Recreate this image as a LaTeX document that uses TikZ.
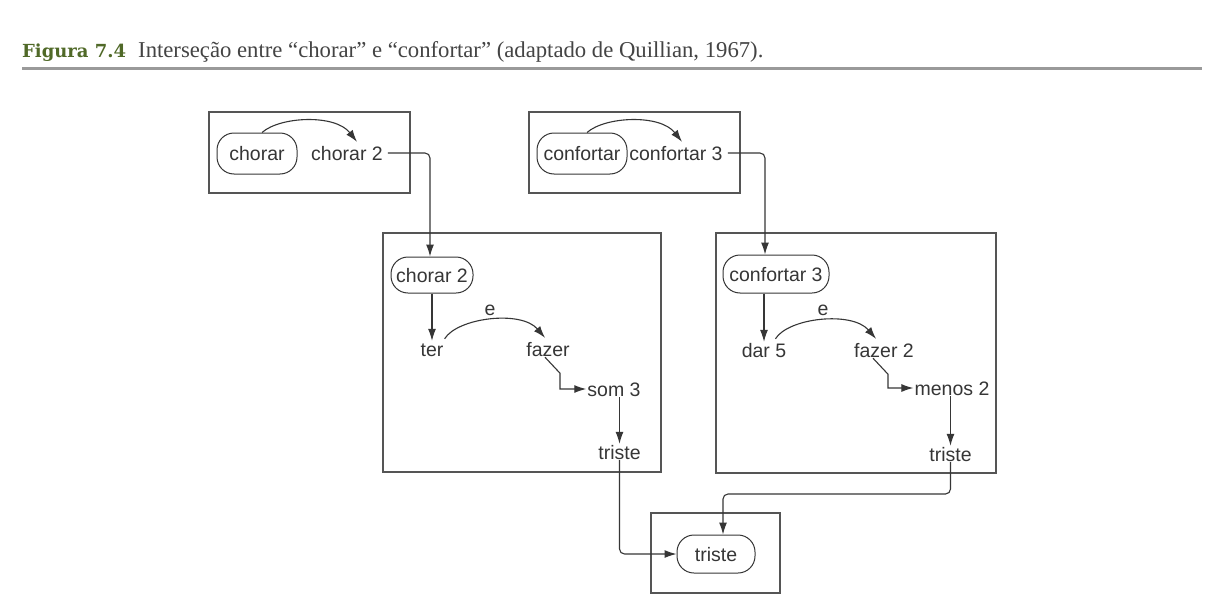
\documentclass[tikz,border=0pt]{standalone}
\usepackage{fontspec}
\setmainfont{Liberation Serif}
\setsansfont{Liberation Sans}
\newfontfamily\figfont{DejaVu Serif}
\usetikzlibrary{arrows.meta}
\definecolor{ink}{HTML}{363636}
\definecolor{boxc}{HTML}{555555}
\definecolor{figgreen}{RGB}{80,105,40}
\definecolor{capc}{HTML}{444444}
\definecolor{rulec}{HTML}{9A9A9A}
\begin{document}
\begin{tikzpicture}[x=1pt,y=-1pt,
  txt/.style={font=\sffamily\fontsize{19.5}{22}\selectfont, text=ink, inner sep=1pt, text height=14pt, text depth=0pt},
  oval/.style={txt, draw=ink, line width=1pt, rounded corners=17pt, inner xsep=2pt},
  box/.style={draw=boxc, line width=1.4pt, inner sep=0pt},
  arr/.style={draw=ink, line width=1.1pt, -{Latex[length=12pt,width=8pt]}}
]
\fill[white] (0,0) rectangle (1224,613);
\useasboundingbox (0,0) rectangle (1224,613);

% caption
\node[anchor=base west, inner sep=0pt, text=figgreen, font=\figfont\bfseries\fontsize{18}{22}\selectfont] (fig) at (22,57) {Figura 7.4};
\node[anchor=base west, inner sep=0pt, text=capc, font=\fontsize{22.7}{26}\selectfont] (cap) at (138,57) {Interseção entre “chorar” e “confortar” (adaptado de Quillian, 1967).};
\coordinate (rl) at (22,68);
\coordinate (rr) at (1202,68);
\draw[rulec, line width=3pt] (rl) -- (rr);

% boxes
\node[box, minimum width=201pt, minimum height=81pt] (b1) at (309.5,152.5) {};
\node[box, minimum width=211pt, minimum height=81pt] (b2) at (634.5,152.5) {};
\node[box, minimum width=278pt, minimum height=239pt] (b3) at (522,352.5) {};
\node[box, minimum width=280pt, minimum height=240pt] (b4) at (856,353) {};
\node[box, minimum width=129pt, minimum height=80pt] (b5) at (715.5,553) {};

% ovals
\node[oval, minimum width=80pt, minimum height=41pt] (o1) at (257,153.5) {chorar};
\node[oval, minimum width=90pt, minimum height=41pt] (o2) at (582,153.5) {confortar};
\node[oval, minimum width=82pt, minimum height=36pt] (o3) at (432,275) {chorar 2};
\node[oval, minimum width=106pt, minimum height=38pt] (o4) at (776,274) {confortar 3};
\node[oval, minimum width=78pt, minimum height=38pt] (o5) at (716,554) {triste};

% plain texts
\node[txt] (t1) at (347,153) {chorar 2};
\node[txt] (t2) at (676,153) {confortar 3};
\node[txt] (ter) at (432,349) {ter};
\node[txt] (fz) at (548,349) {fazer};
\node[txt] (e1) at (490,308) {e};
\node[txt] (som) at (614,389) {som 3};
\node[txt] (tr3) at (619.5,452) {triste};
\node[txt] (dar) at (764,350) {dar 5};
\node[txt] (fz2) at (884,350) {fazer 2};
\node[txt] (e2) at (823,308) {e};
\node[txt] (men) at (952,388) {menos 2};
\node[txt] (tr4) at (950.5,454) {triste};

% top boxes
\draw[arr] ([xshift=5pt]o1.north) .. controls +(18,-16) and +(-22,-28) .. ([xshift=10pt,yshift=3pt]t1.north);
\draw[arr] ([xshift=5pt]o2.north) .. controls +(18,-16) and +(-22,-28) .. ([xshift=6pt,yshift=3pt]t2.north);
\draw[arr, rounded corners=5pt] ([xshift=4pt]t1.east) -| ([xshift=-2pt]o3.north);
\draw[arr, rounded corners=5pt] ([xshift=4pt]t2.east) -| ([xshift=-11pt]o4.north);

% box 3
\draw[arr] (o3.south) -- (ter.north);
\draw[arr] ([yshift=2pt]ter.north east) .. controls +(13,-21) and +(-24,-28) .. ([xshift=-3pt,yshift=3pt]fz.north);
\draw[arr] ([xshift=-3pt]fz.south) -- ++(15,16) |- (som.west);
\draw[arr] (tr3.north |- som.south) -- (tr3.north);
\draw[arr, rounded corners=5pt] (tr3.south) |- (o5.west);

% box 4
\draw[arr] (dar.north |- o4.south) -- (dar.north);
\draw[arr] ([xshift=-12pt,yshift=3pt]dar.north east) .. controls +(13,-21) and +(-24,-28) .. ([xshift=-8pt,yshift=3pt]fz2.north);
\draw[arr] ([xshift=-11pt]fz2.south) -- ++(15,16) |- (men.west);
\draw[arr] (tr4.north |- men.south) -- (tr4.north);
\coordinate (j) at (723,494);
\draw[arr, rounded corners=5pt] (tr4.south) |- (j) -- (o5.north -| j);
\end{tikzpicture}
\end{document}
